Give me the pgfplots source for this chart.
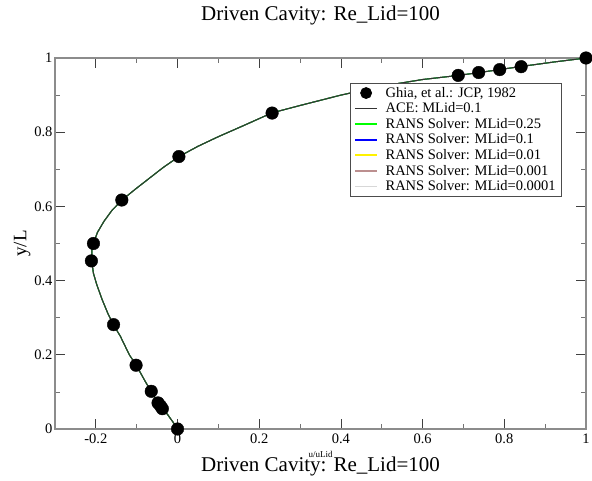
\documentclass[border=0pt]{standalone}
\usepackage{fontspec}
\setmainfont{Liberation Serif}
\usepackage{pgfplots}
\pgfplotsset{compat=1.18}
\usepackage{pgfplotstable}

\definecolor{rosy}{RGB}{188,143,143}
\definecolor{ltgray}{RGB}{215,215,215}
\definecolor{frame}{RGB}{140,140,140}

% Ghia et al. (1982), u along the vertical centreline
\pgfplotstableread{
u y
1.00000 1.0000
0.84123 0.9766
0.78871 0.9688
0.73722 0.9609
0.68717 0.9531
0.23151 0.8516
0.00332 0.7344
-0.13641 0.6172
-0.20581 0.5000
-0.21090 0.4531
-0.15662 0.2813
-0.10150 0.1719
-0.06434 0.1016
-0.04775 0.0703
-0.04192 0.0625
-0.03717 0.0547
0.00000 0.0000
}\ghia

% computed profile (all solvers lie on top of each other)
\pgfplotstableread{
u y
0.000 0.000
-0.012 0.020
-0.025 0.040
-0.037 0.055
-0.047 0.070
-0.064 0.100
-0.080 0.130
-0.101 0.172
-0.118 0.200
-0.140 0.250
-0.157 0.281
-0.170 0.310
-0.185 0.350
-0.198 0.390
-0.206 0.420
-0.210 0.453
-0.210 0.480
-0.206 0.500
-0.196 0.530
-0.180 0.560
-0.160 0.590
-0.136 0.617
-0.105 0.645
-0.070 0.675
-0.035 0.705
0.003 0.734
0.050 0.762
0.100 0.788
0.160 0.817
0.231 0.852
0.300 0.872
0.400 0.900
0.500 0.924
0.600 0.942
0.687 0.953
0.740 0.961
0.790 0.969
0.840 0.977
0.920 0.989
1.000 1.000
}\prof

\begin{document}
\begin{tikzpicture}
\begin{axis}[
    name=ax,
    scale only axis,
    width=531pt, height=371pt,
    xmin=-0.3, xmax=1, ymin=0, ymax=1,
    xtick={-0.2,0,0.2,0.4,0.6,0.8,1},
    ytick={0,0.2,0.4,0.6,0.8,1},
    minor x tick num=1, minor y tick num=1,
    tick align=inside,
    major tick length=10pt, minor tick length=5pt,
    every major tick/.style={black!75, line width=0.8pt},
    every minor tick/.style={black!55, line width=0.8pt},
    axis line style={frame, line width=1.6pt},
    tick label style={font=\fontsize{14.5}{16}\selectfont},
    xticklabel style={yshift=-1pt},
    yticklabel style={xshift=1pt},
    /pgf/number format/assume math mode=true,
    ylabel={\fontsize{19}{21}\selectfont y/L},
    ylabel style={at={(-0.062,0.5)}, anchor=center},
    legend cell align=left,
    reverse legend,
    legend style={at={(0.955,0.933)}, anchor=north east,
        draw=black!70, line width=0.8pt,
        font=\fontsize{14.5}{15}\selectfont,
        row sep=0pt, inner xsep=4pt, inner ysep=2pt},
    legend image code/.code={\draw[#1, line width=1.8pt, solid] (0pt,0pt) -- (22pt,0pt); \path (28pt,0pt);},
    clip=false,
]
\addplot[ltgray, line width=1pt, dash pattern=on 3pt off 2pt] table[x=u,y=y] {\prof};
\addlegendentry{RANS Solver: MLid=0.0001}
\addplot[rosy, line width=1pt] table[x=u,y=y] {\prof};
\addlegendentry{RANS Solver: MLid=0.001}
\addplot[yellow, line width=1pt] table[x=u,y=y] {\prof};
\addlegendentry{RANS Solver: MLid=0.01}
\addplot[blue, line width=1pt] table[x=u,y=y] {\prof};
\addlegendentry{RANS Solver: MLid=0.1}
\addplot[green, line width=1pt] table[x=u,y=y] {\prof};
\addlegendentry{RANS Solver: MLid=0.25}
\addplot[black!80, line width=1pt] table[x=u,y=y] {\prof};
\addlegendentry{ACE: MLid=0.1}
\addplot[only marks, mark=*, mark size=6.3pt, black,
    legend image code/.code={\fill[black] (11pt,0pt) circle (5.5pt); \path (28pt,0pt);}]
    table[x=u,y=y] {\ghia};
\addlegendentry{Ghia, et al.: JCP, 1982}
\end{axis}
\node[font=\fontsize{21}{24}\selectfont] at ([yshift=43pt]ax.north) {Driven Cavity: Re\_Lid=100};
\node[font=\fontsize{9}{10}\selectfont] at ([yshift=-25pt]ax.south) {u/uLid};
\node[font=\fontsize{21}{24}\selectfont] at ([yshift=-37pt]ax.south) {Driven Cavity: Re\_Lid=100};
\pgfresetboundingbox
\path ([shift={(-55pt,-51pt)}]ax.south west) rectangle ([shift={(6pt,58pt)}]ax.north east);
\end{tikzpicture}
\end{document}
